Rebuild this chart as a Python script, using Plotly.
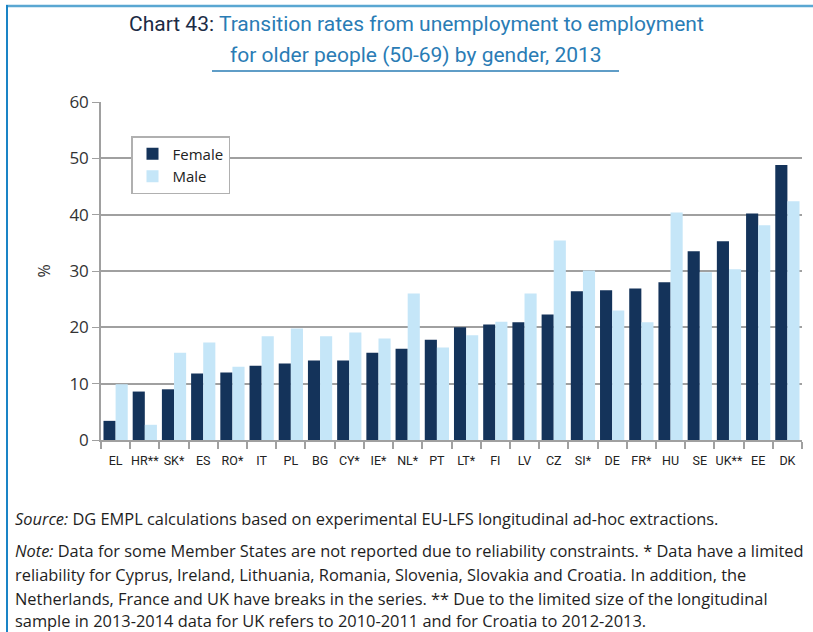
import plotly.graph_objects as go

countries = ["EL", "HR**", "SK*", "ES", "RO*", "IT", "PL", "BG", "CY*", "IE*", "NL*", "PT",
             "LT*", "FI", "LV", "CZ", "SI*", "DE", "FR*", "HU", "SE", "UK**", "EE", "DK"]
female = [3.4, 8.6, 9.0, 11.8, 12.0, 13.2, 13.6, 14.1, 14.1, 15.5, 16.2, 17.8,
          20.0, 20.5, 20.9, 22.3, 26.4, 26.6, 26.9, 28.0, 33.5, 35.3, 40.2, 48.8]
male = [9.9, 2.7, 15.5, 17.3, 13.0, 18.4, 19.8, 18.4, 19.1, 18.0, 26.0, 16.4,
        18.6, 21.0, 26.0, 35.4, 30.1, 23.0, 20.9, 40.4, 29.8, 30.3, 38.1, 42.4]
y_ticks = [0, 10, 20, 30, 40, 50, 60]

W, H = 813, 632
L, R, T, B = 101, 802, 102, 440

def px(x):
    return (x - L) / (R - L)

def py(y):
    return (B - y) / (B - T)

FONT = "Roboto"
NOTE_FONT = "Open Sans"
fig = go.Figure()
fig.add_trace(go.Bar(name="Female", x=countries, y=female, marker_color="#14335a",
                     marker_line_width=0))
fig.add_trace(go.Bar(name="Male", x=countries, y=male, marker_color="#c5e6f8",
                     marker_line_width=0))

fig.update_layout(
    width=W, height=H,
    margin=dict(l=L, r=W - R, t=T, b=H - B),
    paper_bgcolor="white", plot_bgcolor="white",
    barmode="group", bargap=0.17, bargroupgap=0,
    font=dict(family=FONT, color="#333333"),
    showlegend=True,
    legend=dict(x=px(131), y=py(136), xanchor="left", yanchor="top",
                bgcolor="white", bordercolor="#b0b0b0", borderwidth=1.5,
                font=dict(size=15, color="#222222", family=NOTE_FONT), tracegroupgap=0,
                itemwidth=30),
    xaxis=dict(showline=True, linecolor="#a0a0a0", linewidth=1.5,
               ticks="outside", ticklen=7, tickcolor="#a0a0a0", tickwidth=1.5,
               tickson="boundaries", tickangle=0, ticklabelstandoff=8,
               tickfont=dict(size=12.5, color="#222222"),
               showgrid=False),
    yaxis=dict(range=[0, 60], tickvals=y_ticks, showline=True, linecolor="#a0a0a0",
               linewidth=1.5, showgrid=True, gridcolor="#a0a0a0", gridwidth=1.5,
               ticks="outside", ticklen=7, tickcolor="#a0a0a0",
               tickfont=dict(size=17, color="#333333", family=NOTE_FONT), zeroline=False,
               title=dict(text="%", font=dict(size=16, color="#333333", family=NOTE_FONT),
                          standoff=15)),
)

title1 = ("<span style='color:#1c2b45'>Chart 43:</span> "
          "<span style='color:#2a7cb5'>Transition rates from unemployment to employment</span>")
title2 = "<span style='color:#2a7cb5'>for older people (50-69) by gender, 2013</span>"
fig.add_annotation(xref="paper", yref="paper", x=px(416), y=py(24), text=title1,
                   showarrow=False, xanchor="center", yanchor="middle",
                   font=dict(size=21, family=FONT))
fig.add_annotation(xref="paper", yref="paper", x=px(416), y=py(55), text=title2,
                   showarrow=False, xanchor="center", yanchor="middle",
                   font=dict(size=21, family=FONT))

# title underline and frame
fig.add_shape(type="line", xref="paper", yref="paper", x0=px(212), x1=px(619),
              y0=py(71), y1=py(71), line=dict(color="#2a7cb5", width=1.5))
fig.add_shape(type="line", xref="paper", yref="paper", x0=px(6), x1=px(813),
              y0=py(6), y1=py(6), line=dict(color="#5aa7d2", width=2.5))
fig.add_shape(type="line", xref="paper", yref="paper", x0=px(7), x1=px(7),
              y0=py(5), y1=py(632), line=dict(color="#1a84c6", width=2))

notes = [
    (518, "<i>Source:</i> DG EMPL calculations based on experimental EU-LFS longitudinal ad-hoc extractions."),
    (550, "<i>Note:</i> Data for some Member States are not reported due to reliability constraints. * Data have a limited"),
    (574, "reliability for Cyprus, Ireland, Lithuania, Romania, Slovenia, Slovakia and Croatia. In addition, the"),
    (598, "Netherlands, France and UK have breaks in the series. ** Due to the limited size of the longitudinal"),
    (620, "sample in 2013-2014 data for UK refers to 2010-2011 and for Croatia to 2012-2013."),
]
for yy, txt in notes:
    fig.add_annotation(xref="paper", yref="paper", x=px(13), y=py(yy), text=txt,
                       showarrow=False, xanchor="left", yanchor="middle",
                       font=dict(size=16.4, color="#1e1e1e", family=NOTE_FONT))

fig.write_html("out.html", config={"displayModeBar": False},
               post_script="document.body.style.margin='0';")
